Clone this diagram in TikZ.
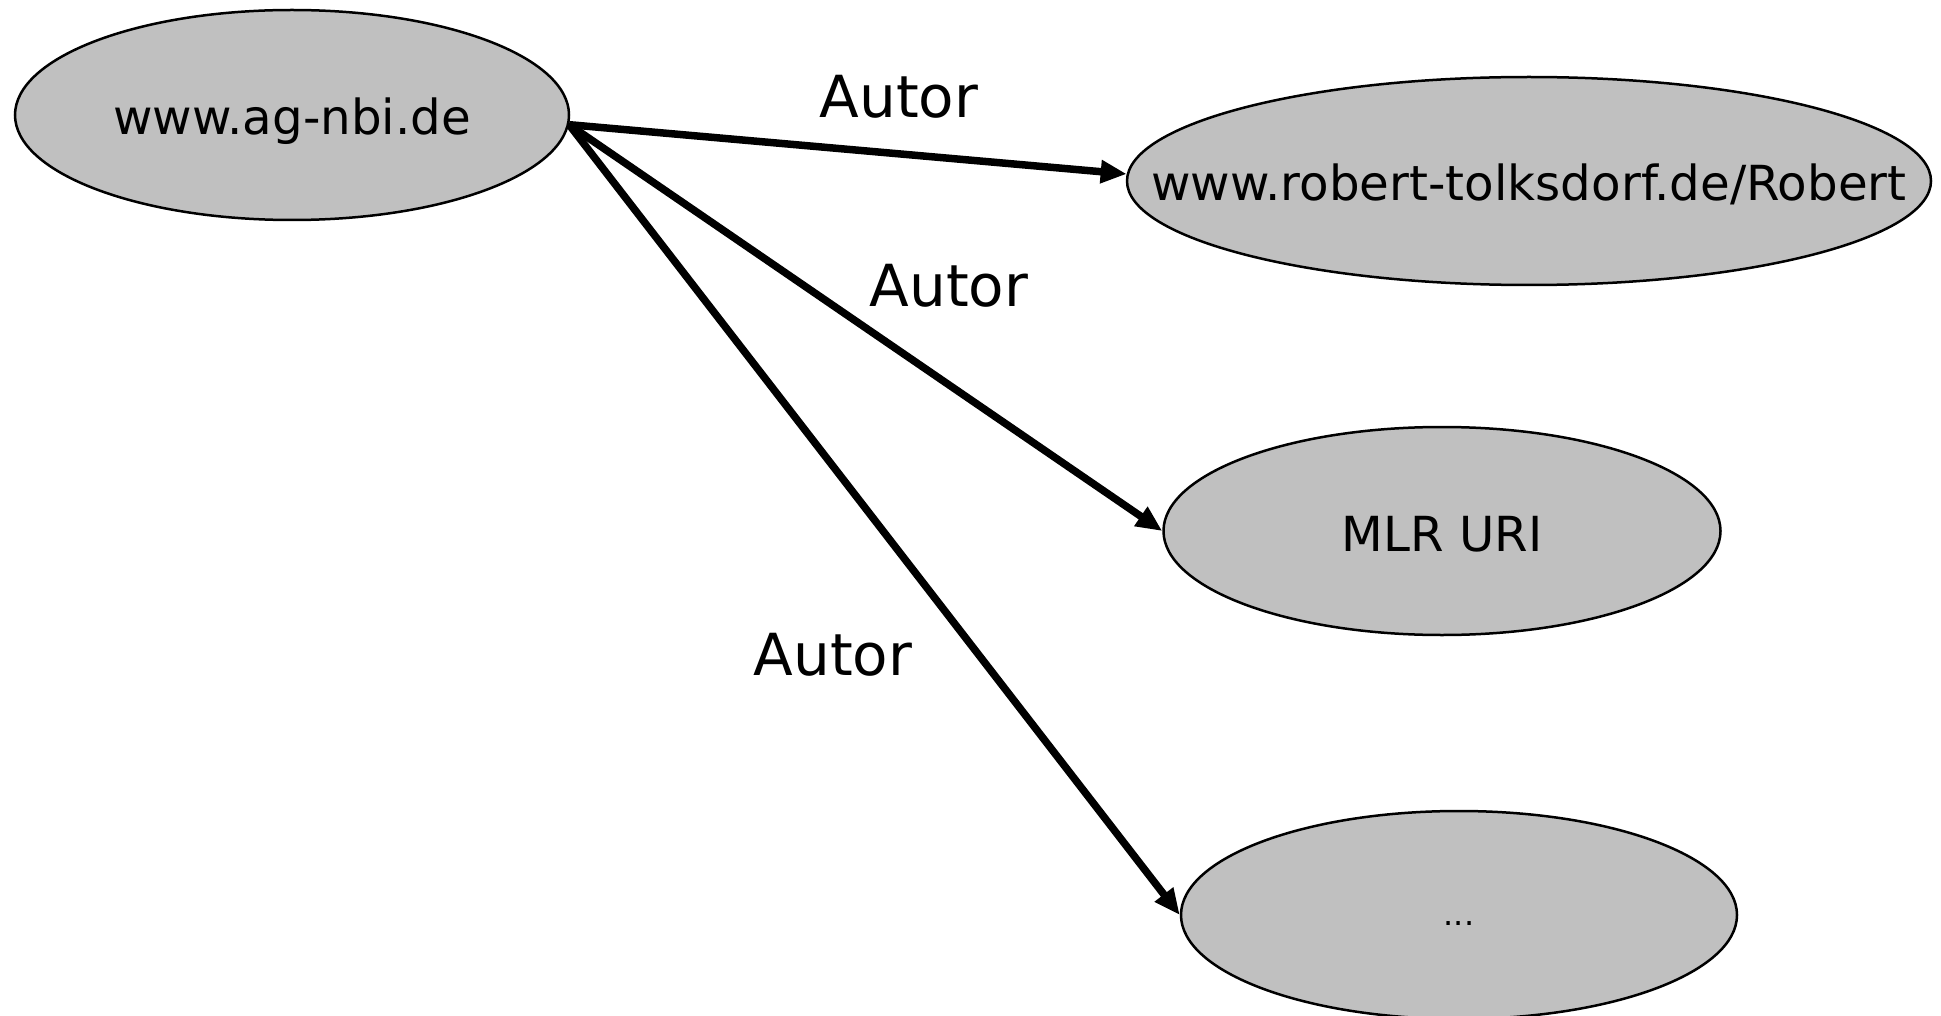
\documentclass[tikz,border=0pt]{standalone}
\usepackage{fontspec}
\setmainfont{DejaVu Sans}
\usetikzlibrary{shapes.geometric,arrows.meta}
\definecolor{nodegray}{RGB}{192,192,192}
\newcommand{\ctext}[1]{\makebox[0pt][c]{#1}}
\tikzset{
  res/.style={ellipse, draw=black, line width=2.5pt, fill=nodegray, inner sep=0pt,
    font=\fontsize{48.3}{57}\selectfont, text height=46pt, text depth=6pt},
  rel/.style={line width=7.5pt, -{Triangle[length=26pt,width=22pt]}},
  lbl/.style={font=\fontsize{58}{68}\selectfont, anchor=base}
}
\begin{document}
\begin{tikzpicture}[x=1pt,y=-1pt]
\useasboundingbox (0,0) rectangle (1941,1016);
\fill[white] (0,0) rectangle (1941,1016);
\node[res, minimum width=554pt, minimum height=210pt] (n1) at (292,115) {\ctext{www.ag-nbi.de}};
\node[res, minimum width=804pt, minimum height=208pt] (n2) at (1529,181) {\ctext{www.robert-tolksdorf.de/Robert}};
\node[res, minimum width=557pt, minimum height=208pt] (n3) at (1442,531) {\ctext{MLR URI}};
\node[res, minimum width=556pt, minimum height=208pt, font=\fontsize{32}{38}\selectfont, text height=26pt, text depth=6pt] (n4) at (1459,915) {\ctext{...}};
\draw[rel] (n1.-2.5) -- (n2.179.4);
\draw[rel] (n1.-2.5) -- (n3.west);
\draw[rel] (n1.-2.5) -- (n4.west);
\node[lbl] (l1) at (899,118) {Autor};
\node[lbl] (l2) at (949,307) {Autor};
\node[lbl] (l3) at (833,675) {Autor};
\end{tikzpicture}
\end{document}
